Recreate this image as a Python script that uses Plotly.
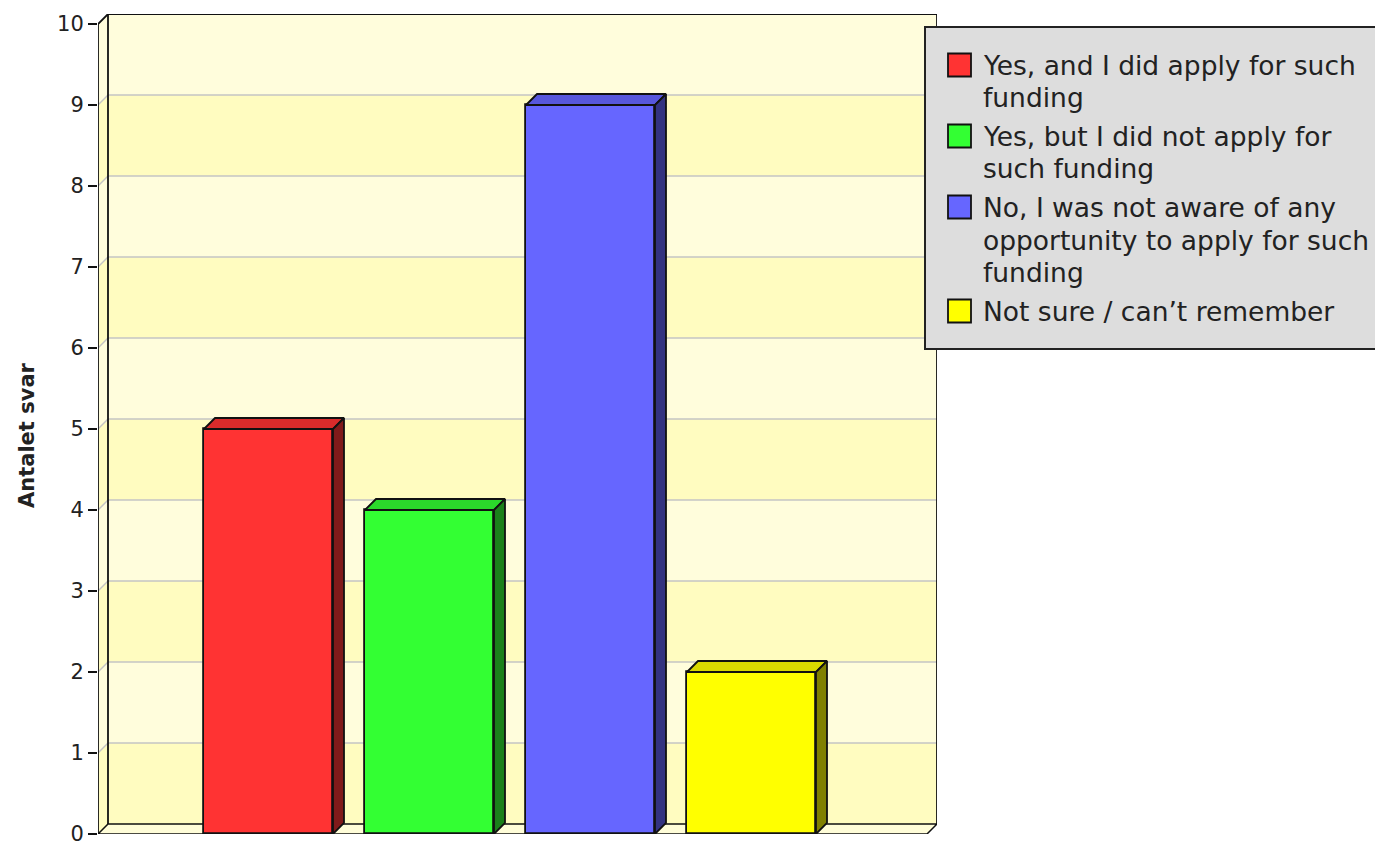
import plotly.graph_objects as go

# ---------------- data ----------------
labels = [
    "Yes, and I did apply for such<br>funding",
    "Yes, but I did not apply for<br>such funding",
    "No, I was not aware of any<br>opportunity to apply for such<br>funding",
    "Not sure / can’t remember",
]
values = [5, 4, 9, 2]
front_colors = ["#FF3333", "#33FF33", "#6666FF", "#FFFF00"]
top_colors = ["#D92B2B", "#2BD92B", "#5757DD", "#D9D900"]
side_colors = ["#801A1A", "#1A801A", "#333380", "#808000"]
y_ticks = list(range(0, 11))
y_title = "Antalet svar"

# ---------------- geometry (page pixels, minus body margin) ----------------
OFF = 8  # default page body margin
W, H = 1383 - OFF, 844 - OFF

def P(v):
    return v - OFF

L = P(98)
R = W - P(937)
T = P(14)
B = H - P(834)
plot_w = W - L - R
plot_h = H - T - B
px_per_cat = 161.0
first_center_px = P(268.5)
px_per_unit = 81.0

x_min = (L - first_center_px) / px_per_cat
x_max = (W - R - first_center_px) / px_per_cat
y_max = plot_h / px_per_unit

wall_dx = 10 / px_per_cat
wall_dy = 10 / px_per_unit
bar_dx = 11 / px_per_cat
bar_dy = 11 / px_per_unit
bar_w = 129 / px_per_cat

light_band = "#FFFDDC"
yellow_band = "#FFFCC0"
grid_col = "#C4C4C4"
edge = "#111111"

def path(pts):
    return "M " + " L ".join(f"{x},{y}" for x, y in pts) + " Z"

shapes = []
back_l = x_min + wall_dx
back_r = x_max
front_r = x_max - wall_dx
front_l = x_min

# back wall bands and left wall bands
for k in range(10):
    col = yellow_band if k % 2 == 0 else light_band
    shapes.append(dict(type="rect", xref="x", yref="y", x0=back_l, x1=back_r,
                       y0=k + wall_dy, y1=k + 1 + wall_dy, fillcolor=col,
                       line=dict(width=0), layer="below"))
    shapes.append(dict(type="path", xref="x", yref="y",
                       path=path([(front_l, k), (back_l, k + wall_dy),
                                  (back_l, k + 1 + wall_dy), (front_l, k + 1)]),
                       fillcolor=col, line=dict(width=0), layer="below"))
# grid lines
for k in y_ticks[1:-1]:
    shapes.append(dict(type="line", xref="x", yref="y", x0=back_l, x1=back_r,
                       y0=k + wall_dy, y1=k + wall_dy,
                       line=dict(color=grid_col, width=1.5), layer="below"))
    shapes.append(dict(type="line", xref="x", yref="y", x0=front_l, x1=back_l,
                       y0=k, y1=k + wall_dy,
                       line=dict(color=grid_col, width=1.5), layer="below"))
# floor
shapes.append(dict(type="path", xref="x", yref="y",
                   path=path([(front_l, 0), (front_r, 0), (back_r, wall_dy), (back_l, wall_dy)]),
                   fillcolor="#FFFDD8", line=dict(color=edge, width=1.5), layer="below"))
# wall edges
top = y_ticks[-1]
for (x0, y0, x1, y1) in [
    (back_l, wall_dy, back_l, top + wall_dy),
    (back_l, top + wall_dy, back_r, top + wall_dy),
    (back_r, wall_dy, back_r, top + wall_dy),
    (front_l, top, back_l, top + wall_dy),
    (front_l, 0, front_l, top),
]:
    shapes.append(dict(type="line", xref="x", yref="y", x0=x0, y0=y0, x1=x1, y1=y1,
                       line=dict(color=edge, width=1.8), layer="below"))

fig = go.Figure()

xs = list(range(len(values)))
fig.add_trace(go.Bar(
    x=xs, y=values, width=bar_w, marker=dict(color=front_colors, line=dict(color=edge, width=1.8)),
    showlegend=False, hoverinfo="skip",
))

for i, v in enumerate(values):
    x0 = i - bar_w / 2
    x1 = i + bar_w / 2
    # top face
    tx = [x0, x1, x1 + bar_dx, x0 + bar_dx, x0]
    ty = [v, v, v + bar_dy, v + bar_dy, v]
    fig.add_trace(go.Scatter(x=tx, y=ty, fill="toself", fillcolor=top_colors[i], mode="lines",
                             line=dict(color=edge, width=1.8), showlegend=False, hoverinfo="skip"))
    # side face
    sx = [x1, x1, x1 + bar_dx, x1 + bar_dx, x1]
    sy = [0, v, v + bar_dy, bar_dy, 0]
    fig.add_trace(go.Scatter(x=sx, y=sy, fill="toself", fillcolor=side_colors[i], mode="lines",
                             line=dict(color=edge, width=1.8), showlegend=False, hoverinfo="skip"))

# ---------------- legend (drawn) ----------------
def px2x(px):
    return (P(px) - L) / plot_w

def py2y(py):
    return (H - B - P(py)) / plot_h

annotations = []
shapes.append(dict(type="rect", xref="paper", yref="paper",
                   x0=px2x(925), x1=px2x(1400), y0=py2y(349), y1=py2y(27),
                   fillcolor="#DDDDDD", line=dict(color="#222222", width=2), layer="above"))
line_h = 33
item_gap = 5
y_cur = 65
for i, lab in enumerate(labels):
    shapes.append(dict(type="rect", xref="paper", yref="paper",
                       x0=px2x(948), x1=px2x(971), y0=py2y(y_cur + 11.5), y1=py2y(y_cur - 11.5),
                       fillcolor=front_colors[i], line=dict(color="#111111", width=1.8), layer="above"))
    for j, part in enumerate(lab.split("<br>")):
        annotations.append(dict(text=part, xref="paper", yref="paper",
                                x=px2x(981), y=py2y(y_cur + j * line_h),
                                xanchor="left", yanchor="middle", showarrow=False,
                                font=dict(family="DejaVu Sans", size=26.5, color="#222222")))
    y_cur += len(lab.split("<br>")) * line_h + item_gap

annotations.append(dict(text=f"<b>{y_title}</b>", xref="paper", yref="paper",
                        x=px2x(27), y=py2y(435), textangle=-90, showarrow=False,
                        xanchor="center", yanchor="middle",
                        font=dict(family="DejaVu Sans", size=21, color="#222222")))

fig.update_layout(
    width=W, height=H,
    margin=dict(l=L, r=R, t=T, b=B, pad=0),
    paper_bgcolor="white", plot_bgcolor="rgba(0,0,0,0)",
    shapes=shapes, annotations=annotations,
    showlegend=False,
    xaxis=dict(range=[x_min, x_max], showgrid=False, zeroline=False, showticklabels=False,
               showline=False, ticks="", fixedrange=True, automargin=False),
    yaxis=dict(range=[0, y_max], tickvals=y_ticks, ticktext=[str(t) for t in y_ticks],
               showgrid=False, zeroline=False, showline=False,
               ticks="outside", ticklen=9, tickwidth=1.8, tickcolor=edge,
               ticklabeloverflow="allow",
               tickfont=dict(family="DejaVu Sans", size=21, color="#222222"),
               automargin=False, fixedrange=True),
    bargap=0,
)

fig.write_html("out.html")
